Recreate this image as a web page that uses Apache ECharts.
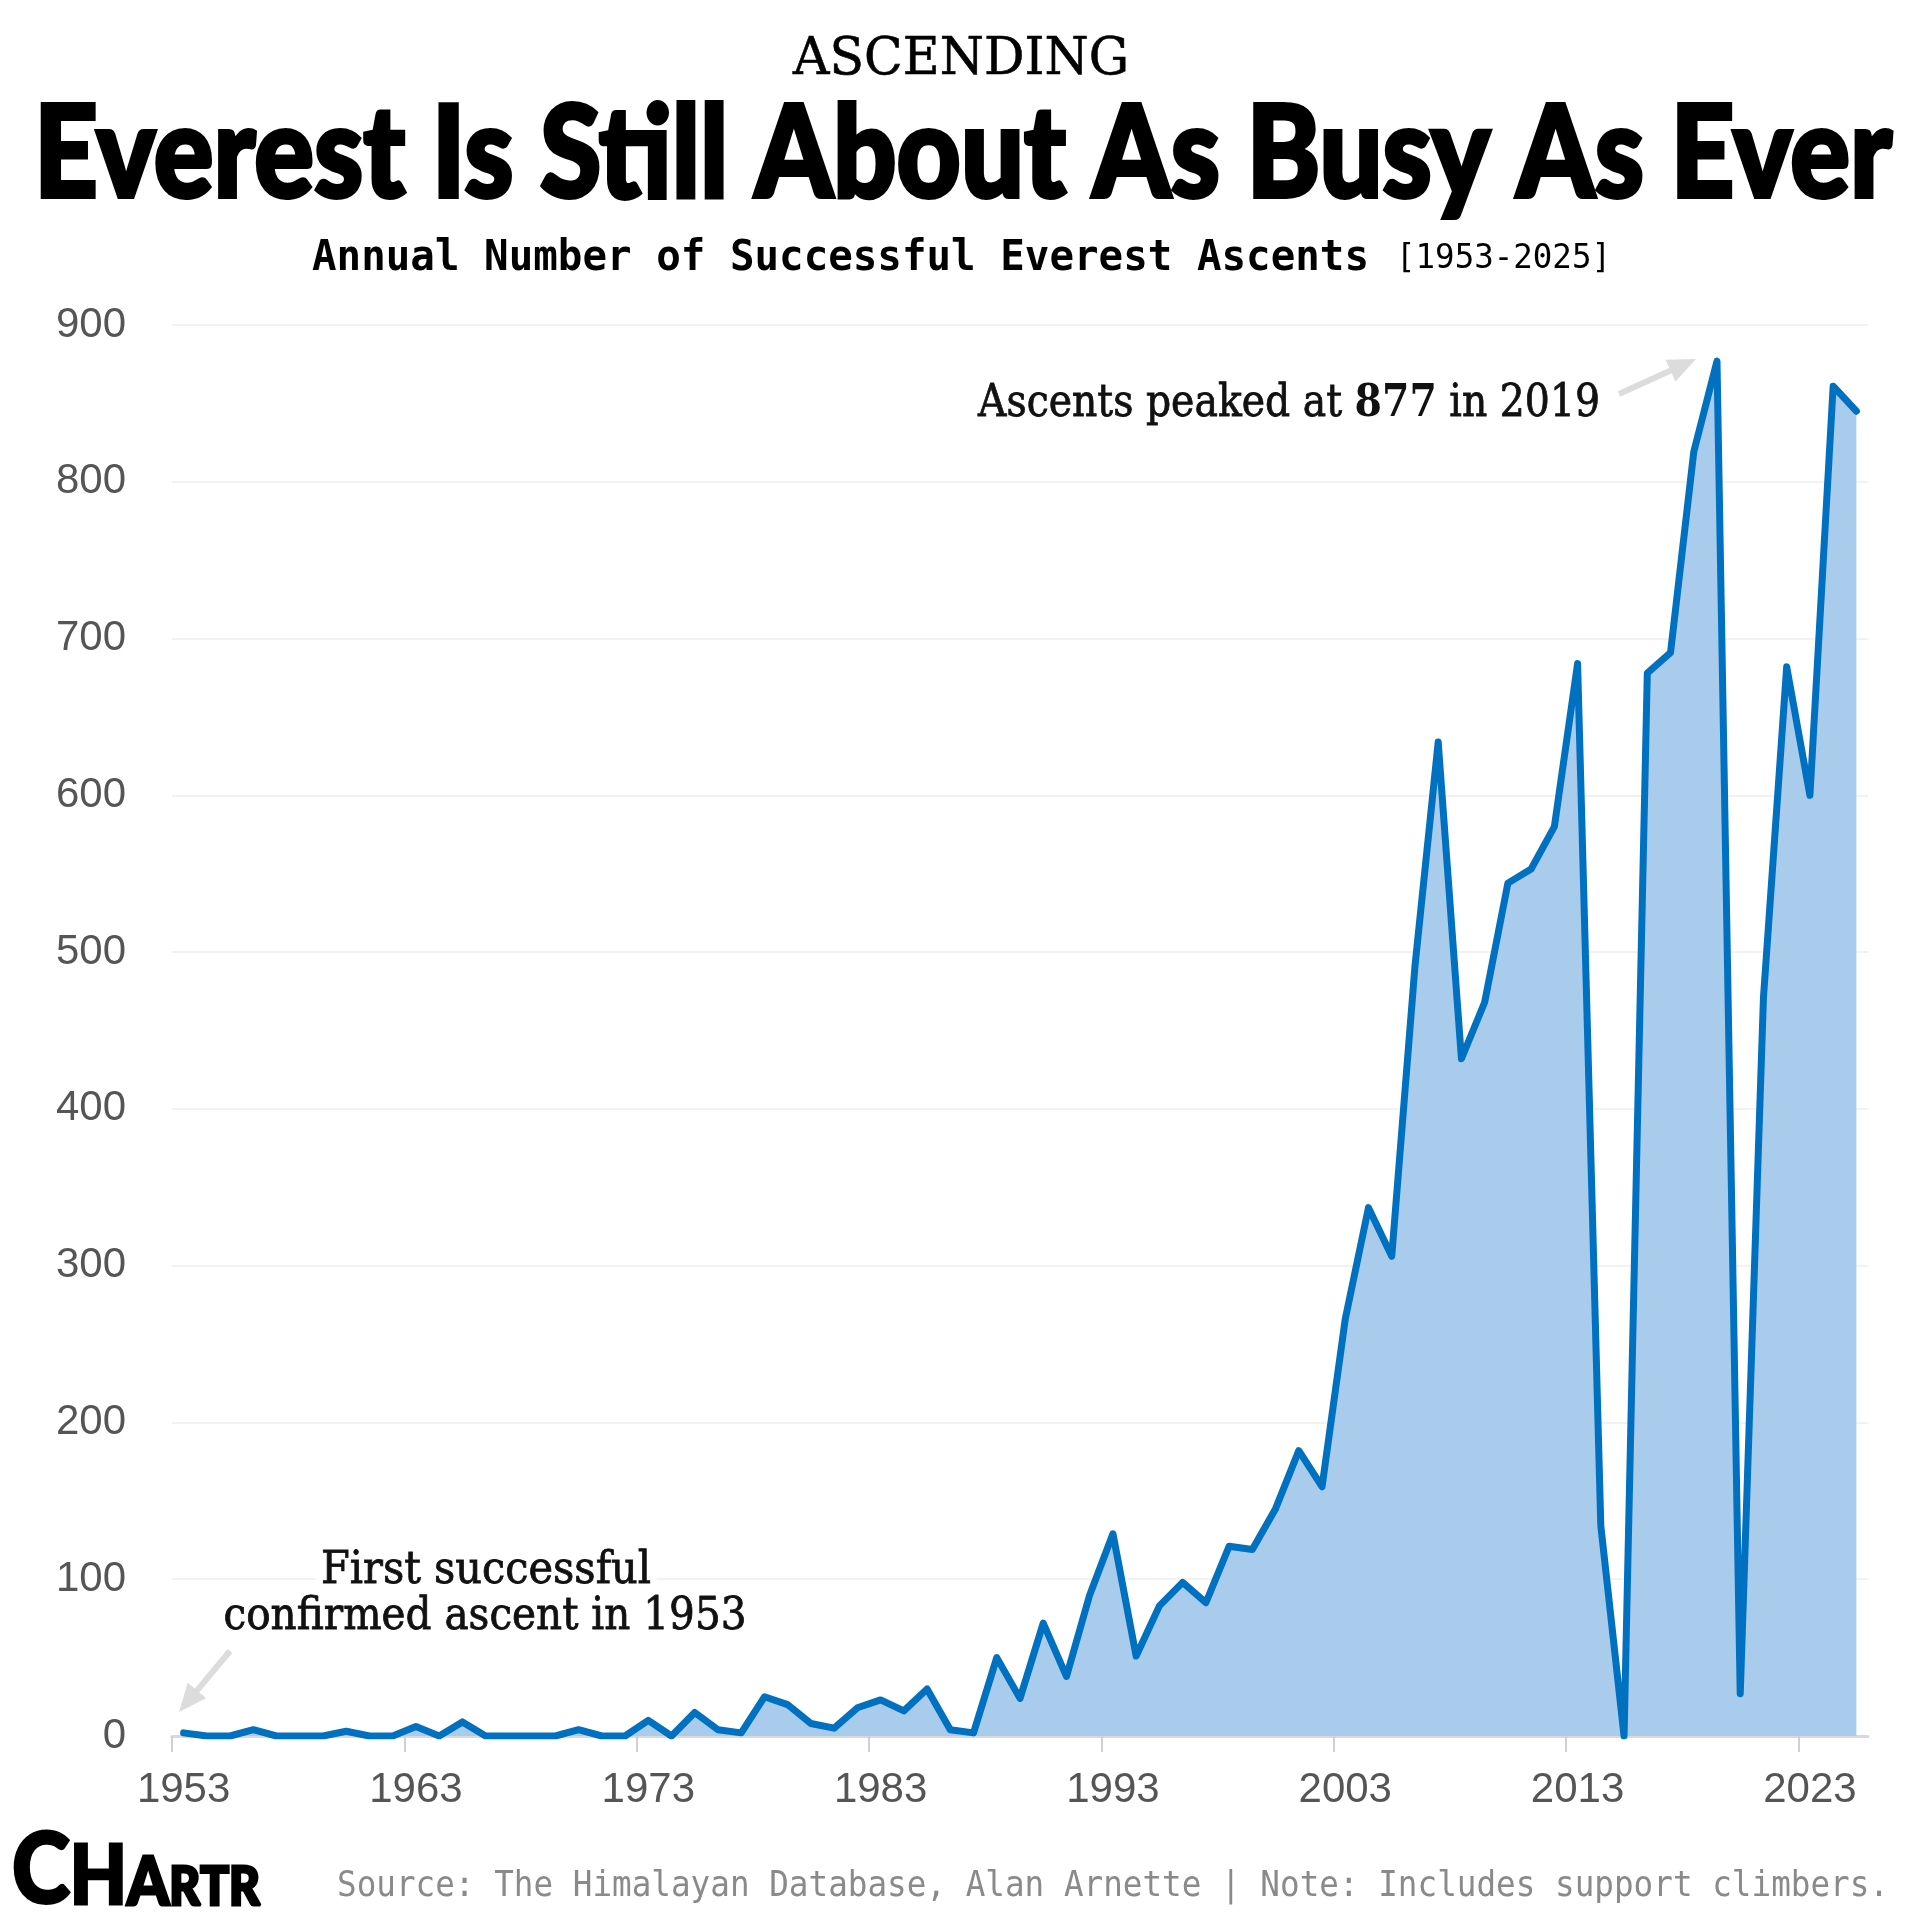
<!DOCTYPE html>
<html>
<head>
<meta charset="utf-8">
<title>Everest Is Still About As Busy As Ever</title>
<script src="https://cdn.jsdelivr.net/npm/echarts@6/dist/echarts.min.js"></script>
<style>
  html, body { margin: 0; padding: 0; background: #fff; }
  #chart { width: 1920px; height: 1919px; }
</style>
</head>
<body>
<div id="chart"></div>
<script>
// annual successful ascents (incl. support climbers)
const years = [
  1953, 1954, 1955, 1956, 1957, 1958, 1959, 1960, 1961, 1962,
  1963, 1964, 1965, 1966, 1967, 1968, 1969, 1970, 1971, 1972,
  1973, 1974, 1975, 1976, 1977, 1978, 1979, 1980, 1981, 1982,
  1983, 1984, 1985, 1986, 1987, 1988, 1989, 1990, 1991, 1992,
  1993, 1994, 1995, 1996, 1997, 1998, 1999, 2000, 2001, 2002,
  2003, 2004, 2005, 2006, 2007, 2008, 2009, 2010, 2011, 2012,
  2013, 2014, 2015, 2016, 2017, 2018, 2019, 2020, 2021, 2022,
  2023, 2024, 2025
]
const ascents = [
  2, 0, 0, 4, 0, 0, 0, 3, 0, 0,
  6, 0, 9, 0, 0, 0, 0, 4, 0, 0,
  10, 0, 15, 4, 2, 25, 20, 8, 5, 18,
  23, 16, 30, 4, 2, 50, 24, 72, 38, 90,
  129, 51, 83, 98, 85, 121, 119, 145, 182, 159,
  266, 337, 306, 491, 634, 432, 468, 544, 553, 580,
  684, 134, 0, 678, 691, 819, 877, 27, 471, 682,
  600, 861, 845
]
const tickYears = [1953, 1963, 1973, 1983, 1993, 2003, 2013, 2023]

// each year's value is plotted mid-year, ticks sit on Jan 1
const MID_YEAR = 0.5

const SANS = "'Liberation Sans', Arial, sans-serif"
const SERIF = "'DejaVu Serif', 'Liberation Serif', serif"
const MONO = "'DejaVu Sans Mono', monospace"
const HEAVY = "Lato, 'Liberation Sans', sans-serif"

const measureCtx = document.createElement('canvas').getContext('2d')
const textWidth = (text, size, family, weight) => {
  measureCtx.font = `${weight || 'normal'} ${size}px ${family}`
  return measureCtx.measureText(text).width
}

// text squeezed/stretched horizontally to a target width
const fitText = ({ text, x, y, width, size, family, weight, color, align, stroke, bg }) => {
  const w = textWidth(text, size, family, weight)
  const style = {
    text,
    fontSize: size,
    fontFamily: family,
    fontWeight: weight || 'normal',
    fill: color || '#000',
    align: align || 'center',
    verticalAlign: 'middle'
  }
  if (stroke) {
    style.stroke = color || '#000'
    style.lineWidth = stroke
  }
  if (bg) {
    style.backgroundColor = bg
    style.padding = [0, 6]
  }
  return {
    type: 'text',
    x, y,
    scaleX: width / w,
    silent: true,
    z: 10,
    style
  }
}

const arrow = (x1, y1, x2, y2) => {
  const len = Math.hypot(x2 - x1, y2 - y1)
  const ux = (x2 - x1) / len, uy = (y2 - y1) / len
  const head = 28, half = 12
  const bx = x2 - ux * head, by = y2 - uy * head
  return [
    {
      type: 'line', silent: true,
      shape: { x1, y1, x2: bx + ux * 2, y2: by + uy * 2 },
      style: { stroke: '#dcdcdc', lineWidth: 6 }
    },
    {
      type: 'polygon', silent: true,
      shape: { points: [[x2, y2], [bx - uy * half, by + ux * half], [bx + uy * half, by - ux * half]] },
      style: { fill: '#dcdcdc' }
    }
  ]
}

// peak annotation with a bold number
const peakParts = [['Ascents peaked at ', 'normal'], ['877', 'bold'], [' in 2019', 'normal']]
const peakSize = 44
const peakNatural = peakParts.reduce((s, p) => s + textWidth(p[0], peakSize, SERIF, p[1]), 0)
const peakText = {
  type: 'text',
  x: 1600, y: 405,
  scaleX: 622 / peakNatural,
  silent: true,
  style: {
    text: '{n|Ascents peaked at }{b|877}{n| in 2019}',
    align: 'right',
    verticalAlign: 'middle',
    rich: {
      n: { fontSize: peakSize, fontFamily: SERIF, fontWeight: 'normal', fill: '#111', stroke: '#111', lineWidth: 0.8 },
      b: { fontSize: peakSize, fontFamily: SERIF, fontWeight: 'bold', fill: '#111' }
    }
  }
}

// logo letters shrinking left to right, sharing a baseline
const logoLetters = [['C', 70], ['H', 59], ['A', 48], ['R', 38], ['T', 38], ['R', 38]]
const logoNatural = logoLetters.reduce((s, l) => s + textWidth(l[0], l[1] / 0.72, HEAVY, 900), 0)
const logoScale = 248 / logoNatural
let logoX = 12
const logo = logoLetters.map(([ch, cap]) => {
  const size = cap / 0.72
  const el = {
    type: 'text', x: logoX, y: 1907 - cap / 2, scaleX: logoScale, silent: true,
    style: { text: ch, fontSize: size, fontFamily: HEAVY, fontWeight: 900, fill: '#000', stroke: '#000', lineWidth: 3, align: 'left', verticalAlign: 'middle' }
  }
  logoX += textWidth(ch, size, HEAVY, 900) * logoScale
  return el
})

const chart = echarts.init(document.getElementById('chart'))

const option = {
  backgroundColor: '#fff',
  animation: false,
  grid: {
    left: 172,
    right: 52,
    top: 325,
    bottom: 183,
    containLabel: false,
    outerBoundsMode: 'none'
  },
  xAxis: {
    type: 'value',
    min: 1953,
    max: 2026,
    axisLine: {
      show: true,
      onZero: true,
      lineStyle: { color: '#d9d9d9', width: 3 }
    },
    axisTick: {
      show: true,
      length: 16,
      customValues: tickYears,
      lineStyle: { color: '#d0d0d0', width: 2 }
    },
    axisLabel: {
      customValues: tickYears.map(y => y + MID_YEAR),
      formatter: v => String(Math.floor(v)),
      fontSize: 42,
      fontFamily: SANS,
      color: '#555',
      margin: 33
    },
    splitLine: { show: false }
  },
  yAxis: {
    type: 'value',
    min: 0,
    max: 900,
    interval: 100,
    axisLine: { show: false },
    axisTick: { show: false },
    axisLabel: {
      fontSize: 42,
      fontFamily: SANS,
      color: '#555',
      margin: 46
    },
    splitLine: {
      lineStyle: { color: '#f2f2f2', width: 2 }
    }
  },
  series: [
    {
      name: 'Ascents',
      type: 'line',
      silent: true,
      showSymbol: false,
      data: years.map((y, i) => [y + MID_YEAR, ascents[i]]),
      lineStyle: {
        color: '#0070c0',
        width: 7,
        join: 'round',
        cap: 'round'
      },
      areaStyle: {
        color: '#a9cbec',
        opacity: 1
      }
    }
  ],
  graphic: [
    fitText({ text: 'ASCENDING', x: 961, y: 60, width: 336, size: 52, family: SERIF, stroke: 0.6 }),
    fitText({ text: 'Everest Is Still About As Busy As Ever', x: 963, y: 156, width: 1858, size: 128, family: HEAVY, weight: 900, stroke: 4 }),
    fitText({ text: 'Annual Number of Successful Everest Ascents', x: 312, y: 259, width: 1057, size: 42, family: MONO, weight: 'bold', align: 'left' }),
    fitText({ text: '[1953-2025]', x: 1396, y: 259, width: 215, size: 34, family: MONO, align: 'left' }),
    peakText,
    ...arrow(1619, 394, 1696, 359),
    fitText({ text: 'First successful', x: 486, y: 1572, width: 330, size: 44, family: SERIF, color: '#111', bg: '#fff', stroke: 0.8 }),
    fitText({ text: 'confirmed ascent in 1953', x: 485, y: 1618, width: 523, size: 44, family: SERIF, color: '#111', bg: '#fff', stroke: 0.8 }),
    ...arrow(230, 1651, 179, 1712),
    ...logo,
    fitText({ text: 'Source: The Himalayan Database, Alan Arnette | Note: Includes support climbers.', x: 337, y: 1887, width: 1552, size: 36, family: MONO, color: '#8a8a8a', align: 'left' })
  ]
}

chart.setOption(option)

window.addEventListener('resize', () => {
  chart.resize()
})
</script>
</body>
</html>
